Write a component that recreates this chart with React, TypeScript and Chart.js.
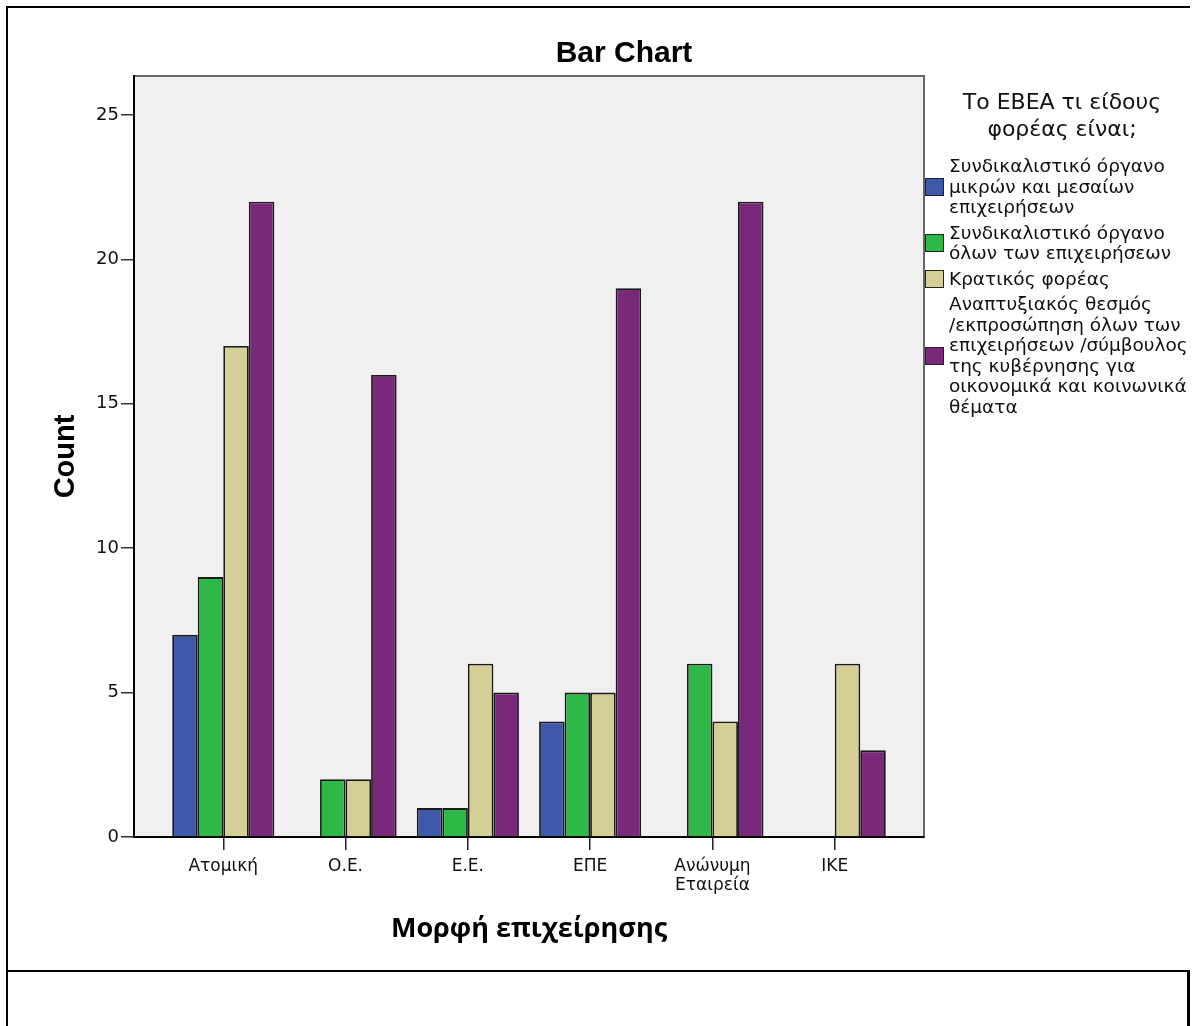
import React, { useEffect, useRef } from "react";
import { Chart, registerables } from "chart.js";

Chart.register(...registerables);

const categories: (string | string[])[] = ["Ατομική", "Ο.Ε.", "Ε.Ε.", "ΕΠΕ", ["Ανώνυμη", "Εταιρεία"], "ΙΚΕ"];
const seriesNames = [
  ["Συνδικαλιστικό όργανο", "μικρών και μεσαίων", "επιχειρήσεων"],
  ["Συνδικαλιστικό όργανο", "όλων των επιχειρήσεων"],
  ["Κρατικός φορέας"],
  ["Αναπτυξιακός θεσμός", "/εκπροσώπηση όλων των", "επιχειρήσεων /σύμβουλος", "της κυβέρνησης για", "οικονομικά και κοινωνικά", "θέματα"],
];
const smallBusinessUnion: (number | null)[] = [7, null, 1, 4, null, null];
const allBusinessUnion: (number | null)[] = [9, 2, 1, 5, 6, null];
const stateBody: (number | null)[] = [17, 2, 6, 5, 4, 6];
const developmentBody: (number | null)[] = [22, 16, 5, 19, 22, 3];
const yTicks = [0, 5, 10, 15, 20, 25];
const colors = ["#3e58ac", "#2eb848", "#d4cf96", "#7a287a"];
const chartTitle = "Bar Chart";
const yTitle = "Count";
const xTitle = "Μορφή επιχείρησης";
const legendTitle = ["Το ΕΒΕΑ τι είδους", "φορέας είναι;"];

const W = 1193;
const H = 1026;
const SANS = "DejaVu Sans, Verdana, sans-serif";

export default function App() {
  const ref = useRef<HTMLCanvasElement | null>(null);
  useEffect(() => {
    if (!ref.current) return;
    const series = [smallBusinessUnion, allBusinessUnion, stateBody, developmentBody];
    const bgPlugin = {
      id: "plotbg",
      beforeDraw(chart: any) {
        const { ctx, chartArea } = chart;
        ctx.save();
        ctx.fillStyle = "#f0f0f0";
        ctx.fillRect(chartArea.left, chartArea.top, chartArea.right - chartArea.left, chartArea.bottom - chartArea.top);
        ctx.strokeStyle = "#666";
        ctx.lineWidth = 2;
        ctx.strokeRect(chartArea.left, chartArea.top, chartArea.right - chartArea.left, chartArea.bottom - chartArea.top);
        ctx.restore();
      },
    };
    const chart = new Chart(ref.current, {
      type: "bar",
      data: {
        datasets: series.map((s, si) => ({
          label: seriesNames[si].join(" "),
          data: s.map((v, i) => ({ x: i, y: v })),
          backgroundColor: colors[si],
          borderColor: "#1a1a1a",
          borderWidth: 1.8,
          categoryPercentage: 0.835,
          barPercentage: 1,
        })),
      },
      options: {
        responsive: false,
        animation: false,
        devicePixelRatio: 1,
        layout: { padding: { top: 76, right: W - 924, left: 0, bottom: 0 } },
        plugins: { legend: { display: false }, tooltip: { enabled: false }, title: { display: false } },
        scales: {
          x: {
            type: "linear",
            offset: false,
            min: -0.73,
            max: 5.73,
            afterFit(scale: any) {
              scale.height = H - 837;
            },
            afterBuildTicks(scale: any) {
              scale.ticks = categories.map((_, i) => ({ value: i }));
            },
            ticks: {
              autoSkip: false,
              maxRotation: 0,
              minRotation: 0,
              padding: 7,
              color: "#111",
              font: { family: SANS, size: 17, lineHeight: 1.12 },
              callback: (v: any) => categories[v as number] as any,
            },
            grid: { offset: false, drawOnChartArea: false, drawTicks: true, tickLength: 13, color: "#222", lineWidth: 1.5 },
            border: { display: true, color: "#000", width: 2 },
            title: {
              display: true,
              text: xTitle,
              color: "#000",
              font: { family: "Open Sans, Liberation Sans, sans-serif", size: 27, weight: "bold" },
              padding: { top: 0, bottom: 80 },
            },
          },
          y: {
            type: "linear",
            min: 0,
            max: 26.35,
            afterFit(scale: any) {
              scale.width = 134;
            },
            afterBuildTicks(scale: any) {
              scale.ticks = yTicks.map((v) => ({ value: v }));
            },
            ticks: {
              padding: 2,
              color: "#111",
              font: { family: SANS, size: 18 },
            },
            grid: { drawOnChartArea: false, drawTicks: true, tickLength: 13, color: "#333", lineWidth: 1.5 },
            border: { display: true, color: "#000", width: 2 },
            title: {
              display: true,
              text: yTitle,
              color: "#000",
              font: { family: "Liberation Sans, Arial, sans-serif", size: 29, weight: "bold" },
              padding: { top: 49, bottom: 0 },
            },
          },
        },
      },
      plugins: [bgPlugin],
    } as any);
    return () => chart.destroy();
  }, []);

  const line = (l: number, t: number, w: number, h: number) => (
    <div style={{ position: "absolute", left: l, top: t, width: w, height: h, background: "#000" }} />
  );

  return (
    <div style={{ position: "absolute", left: 0, top: 0, width: W, height: H, overflow: "hidden", background: "#fff" }}>
      <canvas ref={ref} width={W} height={H} style={{ position: "absolute", left: 0, top: 0, width: W, height: H }} />
      {line(6, 6, 1184, 2)}
      {line(6, 6, 2, H - 6)}
      {line(6, 970, 1184, 2)}
      {line(1187, 970, 3, H - 970)}
      <div
        style={{
          position: "absolute",
          left: 474,
          width: 300,
          top: 33,
          textAlign: "center",
          fontFamily: "Liberation Sans, Arial, sans-serif",
          fontWeight: "bold",
          fontSize: 30,
          lineHeight: "38px",
          color: "#000",
        }}
      >
        {chartTitle}
      </div>
      <div
        style={{
          position: "absolute",
          left: 925,
          top: 88,
          width: 274,
          fontFamily: SANS,
          color: "#111",
        }}
      >
        <div style={{ textAlign: "center", fontSize: 22, lineHeight: "27px", marginBottom: 14, whiteSpace: "nowrap" }}>
          {legendTitle.map((t, i) => (
            <div key={i}>{t}</div>
          ))}
        </div>
        {seriesNames.map((lines, si) => (
          <div key={si} style={{ display: "flex", alignItems: "center", marginBottom: 5 }}>
            <div
              style={{
                width: 17,
                height: 16,
                background: colors[si],
                border: "1px solid #222",
                flex: "none",
                marginRight: 5,
              }}
            />
            <div style={{ fontSize: 18.5, lineHeight: "20.5px", whiteSpace: "nowrap" }}>
              {lines.map((t, i) => (
                <div key={i}>{t}</div>
              ))}
            </div>
          </div>
        ))}
      </div>
    </div>
  );
}
